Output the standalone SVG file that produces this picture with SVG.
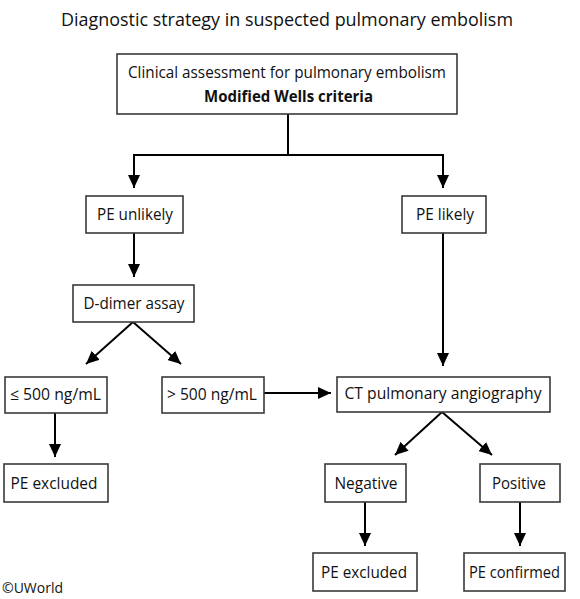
<svg xmlns="http://www.w3.org/2000/svg" width="580" height="599" viewBox="0 0 580 599">
<defs>
<style>
.box{fill:#fff;stroke:#3a3a3a;stroke-width:1.6}
.t{font-family:"Open Sans","Noto Sans",sans-serif;font-size:16px;fill:#111;text-anchor:middle}
.b{font-weight:bold}
.c{fill:none;stroke:#000;stroke-width:2}
</style>
<marker id="ah" markerUnits="userSpaceOnUse" markerWidth="14" markerHeight="12" refX="13" refY="6" orient="auto">
<path d="M0,0 L13,6 L0,12 Z" fill="#000"/>
</marker>
</defs>
<rect width="580" height="599" fill="#fff"/>
<text x="287" y="26" class="t" style="font-size:18px;font-weight:500" textLength="452" lengthAdjust="spacingAndGlyphs">Diagnostic strategy in suspected pulmonary embolism</text>
<g id="connectors">
<path class="c" d="M288,114 V155"/>
<path class="c" d="M134,155 H443"/>
<path class="c" d="M134,154 V188" marker-end="url(#ah)"/>
<path class="c" d="M443,154 V188" marker-end="url(#ah)"/>
<path class="c" d="M134,233 V277" marker-end="url(#ah)"/>
<path class="c" d="M133,322 L86,364" marker-end="url(#ah)"/>
<path class="c" d="M133,322 L181,364" marker-end="url(#ah)"/>
<path class="c" d="M443,233 V366" marker-end="url(#ah)"/>
<path class="c" d="M264,393 H331" marker-end="url(#ah)"/>
<path class="c" d="M55,413 V457" marker-end="url(#ah)"/>
<path class="c" d="M442,412 L395,455" marker-end="url(#ah)"/>
<path class="c" d="M442,412 L492,455" marker-end="url(#ah)"/>
<path class="c" d="M365,502 V546" marker-end="url(#ah)"/>
<path class="c" d="M520,502 V546" marker-end="url(#ah)"/>
</g>
<g id="clinical">
<rect class="box" x="117" y="54" width="340" height="60"/>
<text class="t" x="287" y="78" textLength="318" lengthAdjust="spacingAndGlyphs">Clinical assessment for pulmonary embolism</text>
<text class="t b" x="288.5" y="102" textLength="169" lengthAdjust="spacingAndGlyphs">Modified Wells criteria</text>
</g>
<g id="unlikely">
<rect class="box" x="86" y="196" width="97" height="37"/>
<text class="t" x="135" y="220" textLength="76" lengthAdjust="spacingAndGlyphs">PE unlikely</text>
</g>
<g id="likely">
<rect class="box" x="402" y="196" width="84" height="37"/>
<text class="t" x="445" y="220" textLength="58" lengthAdjust="spacingAndGlyphs">PE likely</text>
</g>
<g id="ddimer">
<rect class="box" x="73" y="285" width="121" height="37"/>
<text class="t" x="134" y="309" textLength="101" lengthAdjust="spacingAndGlyphs">D-dimer assay</text>
</g>
<g id="low">
<rect class="box" x="5" y="377" width="102" height="36"/>
<text class="t" x="55.5" y="400" textLength="91" lengthAdjust="spacingAndGlyphs">≤ 500 ng/mL</text>
</g>
<g id="high">
<rect class="box" x="162" y="377" width="102" height="36"/>
<text class="t" x="212" y="400" textLength="90" lengthAdjust="spacingAndGlyphs">&gt; 500 ng/mL</text>
</g>
<g id="ct">
<rect class="box" x="337" y="377" width="213" height="35"/>
<text class="t" x="443" y="399" textLength="197" lengthAdjust="spacingAndGlyphs">CT pulmonary angiography</text>
</g>
<g id="excluded1">
<rect class="box" x="4" y="464" width="104" height="38"/>
<text class="t" x="54" y="489" textLength="87" lengthAdjust="spacingAndGlyphs">PE excluded</text>
</g>
<g id="negative">
<rect class="box" x="325" y="464" width="81" height="38"/>
<text class="t" x="366" y="489" textLength="63" lengthAdjust="spacingAndGlyphs">Negative</text>
</g>
<g id="positive">
<rect class="box" x="480" y="464" width="80" height="38"/>
<text class="t" x="519" y="489" textLength="54" lengthAdjust="spacingAndGlyphs">Positive</text>
</g>
<g id="excluded2">
<rect class="box" x="313" y="553" width="104" height="38"/>
<text class="t" x="364" y="578" textLength="86" lengthAdjust="spacingAndGlyphs">PE excluded</text>
</g>
<g id="confirmed">
<rect class="box" x="464" y="553" width="101" height="38"/>
<text class="t" x="514.5" y="578" textLength="91" lengthAdjust="spacingAndGlyphs">PE confirmed</text>
</g>
<text x="2" y="593" style="font-family:'Open Sans','Noto Sans',sans-serif;font-size:14px;fill:#111" textLength="61" lengthAdjust="spacingAndGlyphs">©UWorld</text>
</svg>
